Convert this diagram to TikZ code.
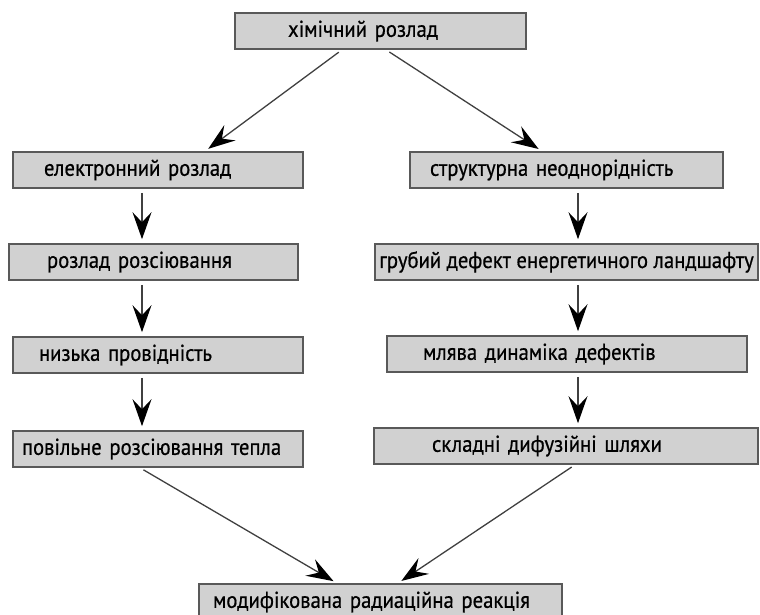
\documentclass[tikz,border=0pt]{standalone}
\usepackage{fontspec}
\setmainfont[FakeStretch=0.9, FakeBold=0.6]{PT Sans}
\usetikzlibrary{arrows.meta}
\usetikzlibrary{positioning}
\tikzset{box/.style = {draw=black!65, fill=black!18, line width=1.6pt,
                       minimum height=36pt, inner xsep=0pt, inner ysep=0pt,
                       align=left, font=\fontsize{23}{26}\selectfont}}
\tikzset{flow/.style = {draw=black!75, line width=1.3pt,
                        -{Stealth[length=27pt, width=19pt, inset=10pt, color=black]},
                        shorten <=4pt, shorten >=4pt}}

\begin{document}
\begin{tikzpicture}[x=1pt, y=-1pt]
    \useasboundingbox (0, 0) rectangle (760, 615);
    \node [box, text width=291pt] (chem) at (380.5, 31) {\hspace*{53pt}хімічний розлад};
    \node [box, text width=290pt] (elec) at (158, 170) {\hspace*{31pt}електронний розлад};
    \node [box, text width=313pt] (struct) at (566.5, 170) {\hspace*{20pt}структурна неоднорідність};
    \node [box, text width=289pt] (scat) at (153.5, 262) {\hspace*{38pt}розлад розсіювання};
    \node [box, minimum width=383pt] (land) at (566.5, 262) {грубий дефект енергетичного ландшафту};
    \node [box, text width=290pt] (cond) at (158, 355) {\hspace*{26pt}низька провідність};
    \node [box, text width=360pt] (slow) at (567, 354) {\hspace*{36pt}млява динаміка дефектів};
    \node [box, text width=290pt] (heat) at (158, 449) {\hspace*{9pt}повільне розсіювання тепла};
    \node [box, text width=384pt] (diff) at (566, 446) {\hspace*{58pt}складні дифузійні шляхи};
    \node [box, text width=363pt] (mod) at (380.5, 602) {\hspace*{14pt}модифікована радиаційна реакція};

    \draw [flow] ([xshift=-38.5pt]chem.south) -- ([xshift=47pt]elec.north);
    \draw [flow] ([xshift=5.5pt]chem.south) -- ([xshift=-24.5pt]struct.north);
    \draw [flow] ([xshift=-16pt]elec.south) -- ([xshift=-16pt]elec.south |- scat.north);
    \draw [flow] ([xshift=-16pt]elec.south |- scat.south) -- ([xshift=-16pt]elec.south |- cond.north);
    \draw [flow] ([xshift=-16pt]elec.south |- cond.south) -- ([xshift=-16pt]elec.south |- heat.north);
    \draw [flow] ([xshift=11.5pt]struct.south) -- ([xshift=11.5pt]struct.south |- land.north);
    \draw [flow] ([xshift=11.5pt]struct.south |- land.south) -- ([xshift=11.5pt]struct.south |- slow.north);
    \draw [flow] ([xshift=11.5pt]struct.south |- slow.south) -- ([xshift=11.5pt]struct.south |- diff.north);
    \draw [flow] ([xshift=-18pt]heat.south) -- ([xshift=-43.5pt]mod.north);
    \draw [flow] ([xshift=9pt]diff.south) -- ([xshift=17.5pt]mod.north);
  \end{tikzpicture}
\end{document}
